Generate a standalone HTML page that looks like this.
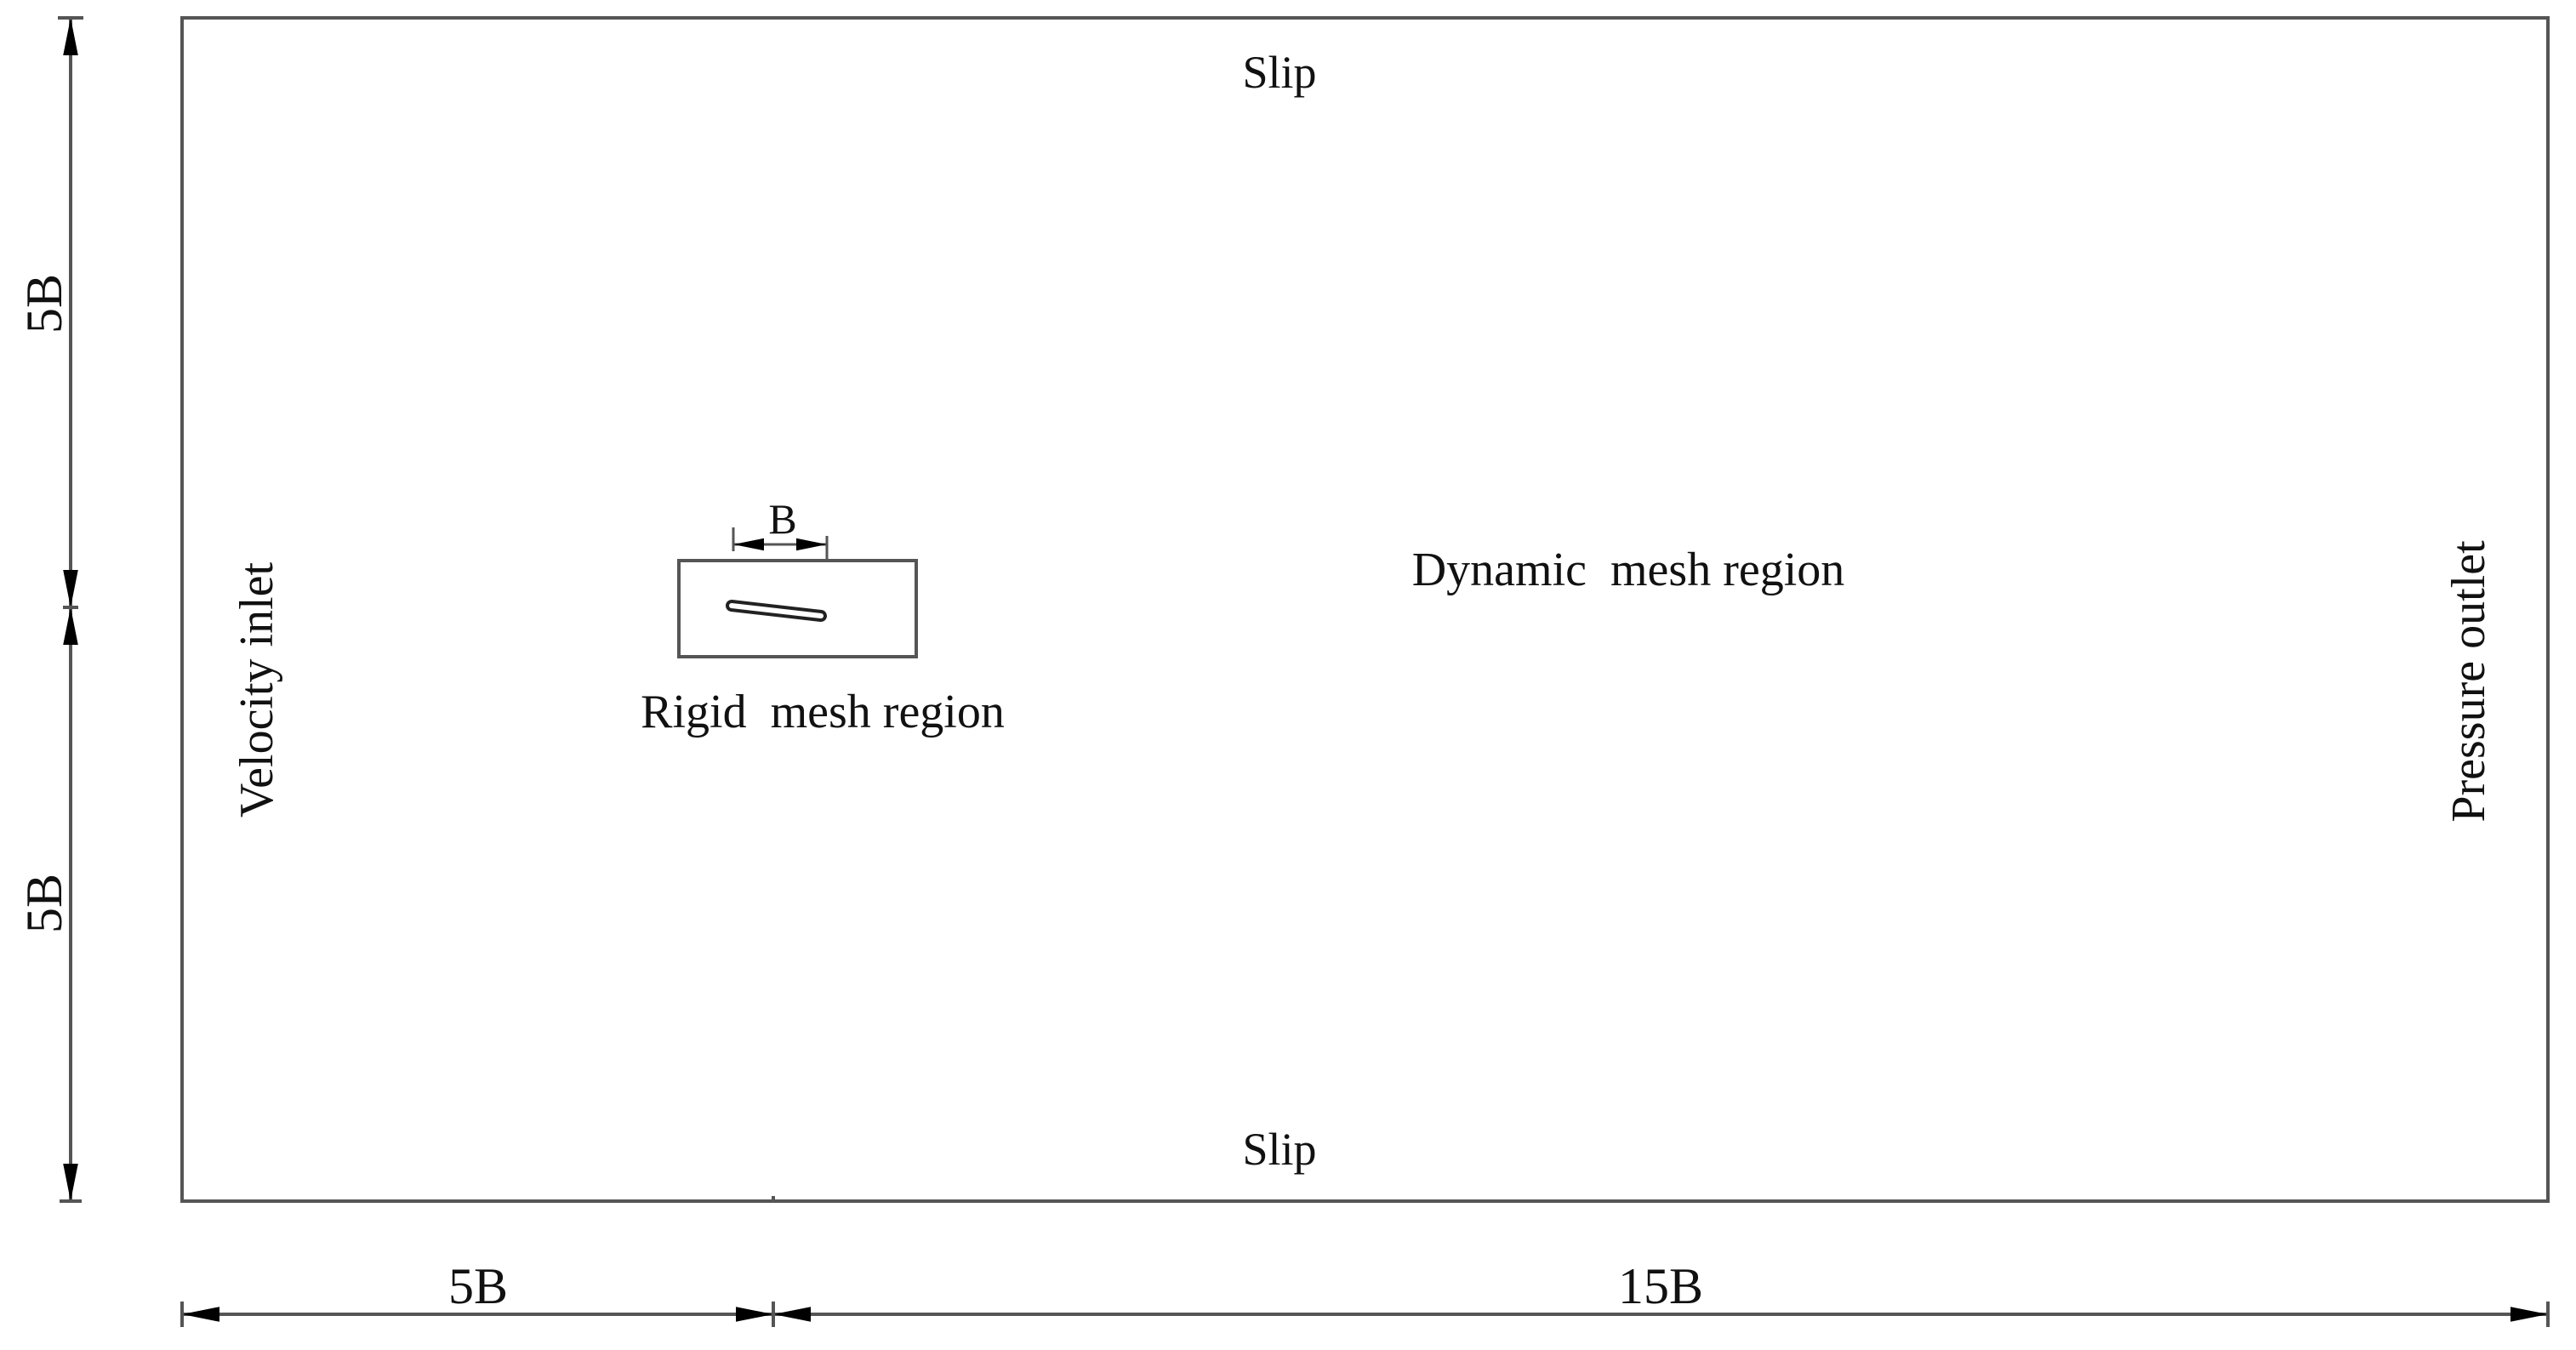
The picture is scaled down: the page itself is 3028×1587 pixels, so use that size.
<!DOCTYPE html>
<html><head><meta charset="utf-8"><style>
html,body{margin:0;padding:0;background:#fff;}
svg{display:block;}
text{font-family:"Liberation Serif",serif;fill:#111;}
</style></head><body>
<svg width="3028" height="1587" viewBox="0 0 3028 1587">
<defs>
<marker id="ah" viewBox="0 0 20 10" refX="20" refY="5" markerWidth="44" markerHeight="22" markerUnits="userSpaceOnUse" orient="auto-start-reverse" preserveAspectRatio="none"><path d="M0,1 L20,5 L0,9 Z" fill="#000"/></marker>
<marker id="ahs" viewBox="0 0 20 10" refX="20" refY="5" markerWidth="36" markerHeight="18" markerUnits="userSpaceOnUse" orient="auto-start-reverse" preserveAspectRatio="none"><path d="M0,1 L20,5 L0,9 Z" fill="#000"/></marker>
</defs>
<g stroke="#555" stroke-width="4" fill="none">
<rect x="214" y="21" width="2781" height="1391"/>
<line x1="909" y1="1406" x2="909" y2="1412"/>
<line x1="83" y1="21" x2="83" y2="714" marker-start="url(#ah)" marker-end="url(#ah)"/>
<line x1="83" y1="714" x2="83" y2="1412" marker-start="url(#ah)" marker-end="url(#ah)"/>
<line x1="68" y1="21" x2="98" y2="21"/>
<line x1="74" y1="714" x2="92" y2="714"/>
<line x1="70" y1="1412" x2="96" y2="1412"/>
<line x1="214" y1="1545" x2="909" y2="1545" marker-start="url(#ah)" marker-end="url(#ah)"/>
<line x1="909" y1="1545" x2="2995" y2="1545" marker-start="url(#ah)" marker-end="url(#ah)"/>
<line x1="214" y1="1530" x2="214" y2="1560"/>
<line x1="909" y1="1530" x2="909" y2="1560"/>
<line x1="2995" y1="1530" x2="2995" y2="1560"/>
<rect x="798" y="659" width="279" height="113"/>
<line x1="862" y1="640" x2="972" y2="640" marker-start="url(#ahs)" marker-end="url(#ahs)" stroke-width="3"/>
<line x1="862" y1="620" x2="862" y2="648" stroke-width="3"/>
<line x1="972" y1="630" x2="972" y2="659" stroke-width="3"/>
<line x1="860" y1="712" x2="965" y2="724" stroke="#222" stroke-width="14" stroke-linecap="round"/>
<line x1="860" y1="712" x2="965" y2="724" stroke="#fff" stroke-width="6" stroke-linecap="round"/>
</g>
<text x="920" y="627" font-size="50" text-anchor="middle">B</text>
<text x="967" y="855" font-size="56" text-anchor="middle" xml:space="preserve">Rigid  mesh region</text>
<text x="1504" y="103" font-size="54" text-anchor="middle">Slip</text>
<text x="1504" y="1369" font-size="54" text-anchor="middle">Slip</text>
<text x="1914" y="688" font-size="56" text-anchor="middle" xml:space="preserve">Dynamic  mesh region</text>
<text transform="translate(320,811) rotate(-90)" font-size="56" text-anchor="middle">Velocity inlet</text>
<text transform="translate(2920,801) rotate(-90)" font-size="56" text-anchor="middle">Pressure outlet</text>
<text transform="translate(72,357) rotate(-90)" font-size="60" text-anchor="middle">5B</text>
<text transform="translate(72,1062) rotate(-90)" font-size="60" text-anchor="middle">5B</text>
<text x="562" y="1532" font-size="60" text-anchor="middle">5B</text>
<text x="1952" y="1532" font-size="60" text-anchor="middle">15B</text>
</svg>
</body></html>
